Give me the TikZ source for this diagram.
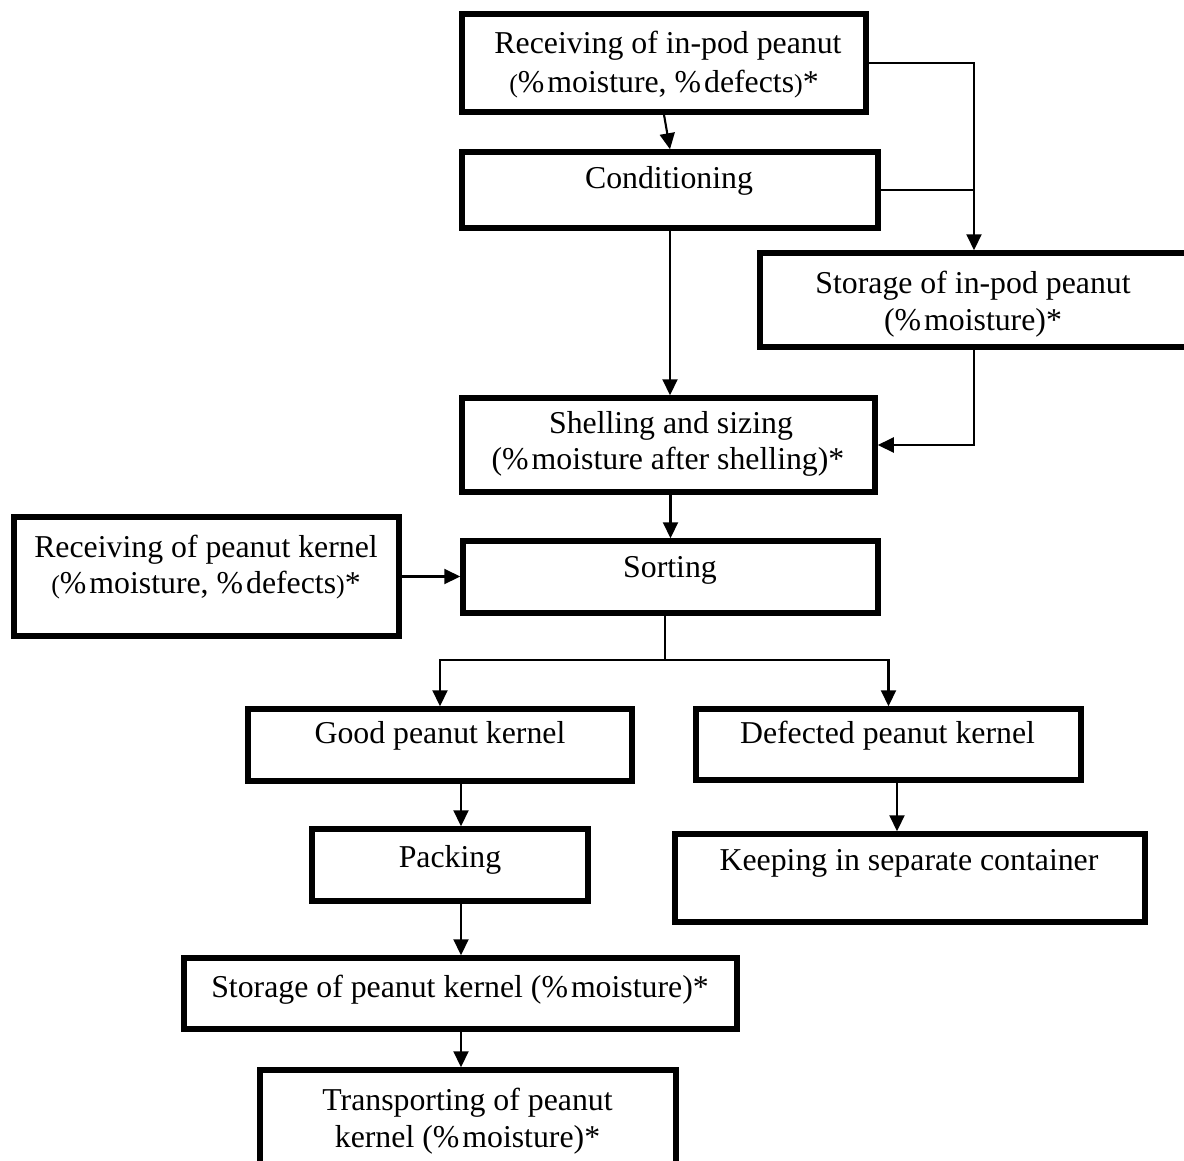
\documentclass[tikz,border=0pt]{standalone}
\usepackage{fontspec}
\setmainfont{Liberation Serif}
\usetikzlibrary{arrows.meta}
\newcommand{\pc}{\%\hspace{3pt}}
\newcommand{\smallparen}[1]{{\fontsize{26}{28}\selectfont #1}}
\begin{document}
\begin{tikzpicture}[x=1pt,y=-1pt,
  box/.style={draw,line width=5.5pt,rectangle,inner sep=0pt,minimum width=#1},
  txt/.style={anchor=base,inner sep=0pt,font=\fontsize{31.8}{37}\selectfont},
  conn/.style={line width=2.1pt},
  arr/.style={conn,-{Triangle[length=16pt,width=15pt]}}]
\clip (0,0) rectangle (1184,1160);
\fill[white] (0,0) rectangle (1184,1160);
% boxes (centre, width, height)
\node[box=404pt,minimum height=98pt] (b1) at (664,63) {};
\node[box=416pt,minimum height=76pt] (b2) at (670,190) {};
\node[box=428pt,minimum height=94pt] (b3) at (974,300) {};
\node[box=413pt,minimum height=94pt] (b4) at (668.5,445) {};
\node[box=385pt,minimum height=119pt] (b5) at (206.5,576.5) {};
\node[box=415pt,minimum height=72pt] (b6) at (670.5,577) {};
\node[box=384pt,minimum height=72pt] (b7) at (440,745) {};
\node[box=385pt,minimum height=71pt] (b8) at (888.5,744.5) {};
\node[box=276pt,minimum height=72pt] (b9) at (450,865) {};
\node[box=470pt,minimum height=88pt] (b10) at (910,878) {};
\node[box=553pt,minimum height=71pt] (b11) at (460.5,993.5) {};
\node[box=416pt,minimum height=130pt] (b12) at (468,1135) {};
% texts
\node[txt] (t1a) at (668,53) {Receiving of in-pod peanut};
\node[txt] (t1b) at (664,92) {\smallparen{(}\pc moisture, \pc defects\smallparen{)}*};
\node[txt] (t2) at (669,188) {Conditioning};
\node[txt] (t3a) at (973,293) {Storage of in-pod peanut};
\node[txt] (t3b) at (973,330) {(\pc moisture)*};
\node[txt] (t4a) at (671,433) {Shelling and sizing};
\node[txt] (t4b) at (668,469) {(\pc moisture after shelling)*};
\node[txt] (t5a) at (206,557) {Receiving of peanut kernel};
\node[txt] (t5b) at (206,593) {\smallparen{(}\pc moisture, \pc defects\smallparen{)}*};
\node[txt] (t6) at (670,577) {Sorting};
\node[txt] (t7) at (440,743) {Good peanut kernel};
\node[txt] (t8) at (887.5,743) {Defected peanut kernel};
\node[txt] (t9) at (450,867) {Packing};
\node[txt] (t10) at (909,870) {Keeping in separate container};
\node[txt] (t11) at (460,997) {Storage of peanut kernel (\pc moisture)*};
\node[txt] (t12a) at (467.5,1110) {Transporting of peanut};
\node[txt] (t12b) at (467.5,1147) {kernel (\pc moisture)*};
% junction coordinates
\coordinate (split) at (665,660);
\coordinate (col) at (461,0);
\coordinate (colr) at (897,0);
% connectors
\draw[arr] (b1.south) -- (b2.north);
\draw[arr] (b1.east) -| (b3.north);
\draw[conn] (b2.east) -- (b2.east -| b3.north);
\draw[arr] (b2.south) -- (b2.south |- b4.north);
\draw[arr] (b3.south) |- (b4.east);
\draw[arr] (b4.south -| b6.north) -- (b6.north);
\draw[arr] (b5.east) -- (b5.east -| b6.west);
\draw[conn] (b6.south -| split) -- (split);
\draw[arr] (split) -| (b7.north);
\draw[arr] (split) -| (b8.north);
\draw[arr] (b7.south -| col) -- (b9.north -| col);
\draw[arr] (b9.south -| col) -- (b11.north -| col);
\draw[arr] (b11.south -| col) -- (b12.north -| col);
\draw[arr] (b8.south -| colr) -- (b10.north -| colr);
\end{tikzpicture}
\end{document}
